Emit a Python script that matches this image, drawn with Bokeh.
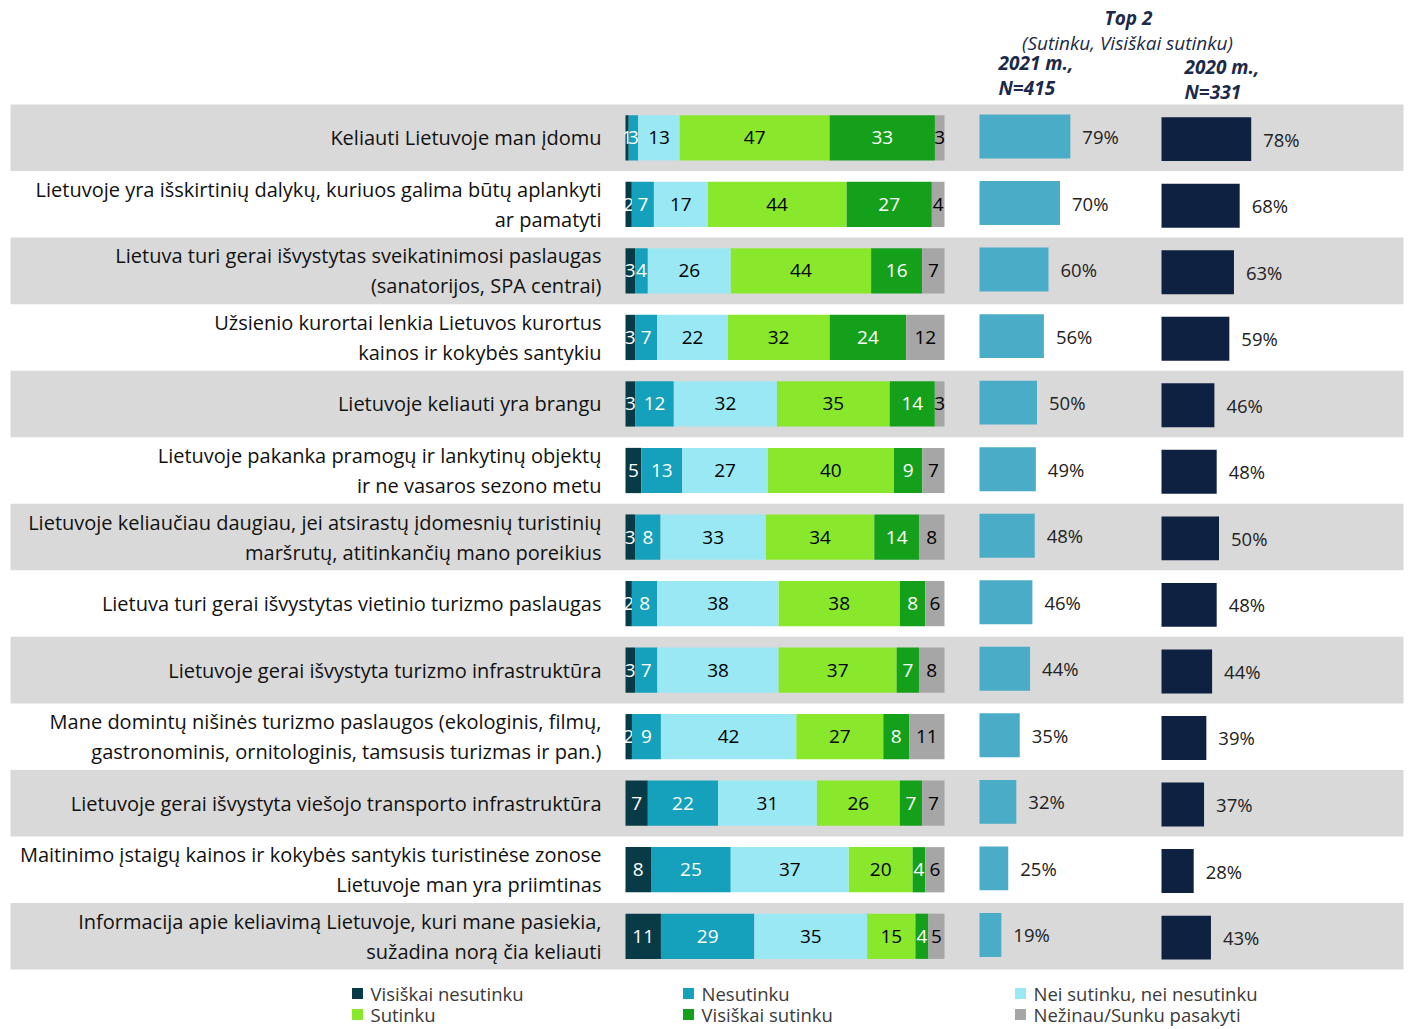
from bokeh.plotting import figure
from bokeh.models import Range1d, ColumnDataSource
from bokeh.core.properties import value
from bokeh.embed import file_html
from bokeh.resources import INLINE

# ---------------- data ----------------
categories = [
    "Keliauti Lietuvoje man įdomu",
    "Lietuvoje yra išskirtinių dalykų, kuriuos galima būtų aplankyti\nar pamatyti",
    "Lietuva turi gerai išvystytas sveikatinimosi paslaugas\n(sanatorijos, SPA centrai)",
    "Užsienio kurortai lenkia Lietuvos kurortus\nkainos ir kokybės santykiu",
    "Lietuvoje keliauti yra brangu",
    "Lietuvoje pakanka pramogų ir lankytinų objektų\nir ne vasaros sezono metu",
    "Lietuvoje keliaučiau daugiau, jei atsirastų įdomesnių turistinių\nmaršrutų, atitinkančių mano poreikius",
    "Lietuva turi gerai išvystytas vietinio turizmo paslaugas",
    "Lietuvoje gerai išvystyta turizmo infrastruktūra",
    "Mane domintų nišinės turizmo paslaugos (ekologinis, filmų,\ngastronominis, ornitologinis, tamsusis turizmas ir pan.)",
    "Lietuvoje gerai išvystyta viešojo transporto infrastruktūra",
    "Maitinimo įstaigų kainos ir kokybės santykis turistinėse zonose\nLietuvoje man yra priimtinas",
    "Informacija apie keliavimą Lietuvoje, kuri mane pasiekia,\nsužadina norą čia keliauti",
]
visiskai_nesutinku = [1, 2, 3, 3, 3, 5, 3, 2, 3, 2, 7, 8, 11]
nesutinku = [3, 7, 4, 7, 12, 13, 8, 8, 7, 9, 22, 25, 29]
nei_sutinku = [13, 17, 26, 22, 32, 27, 33, 38, 38, 42, 31, 37, 35]
sutinku = [47, 44, 44, 32, 35, 40, 34, 38, 37, 27, 26, 20, 15]
visiskai_sutinku = [33, 27, 16, 24, 14, 9, 14, 8, 7, 8, 7, 4, 4]
nezinau = [3, 4, 7, 12, 3, 7, 8, 6, 8, 11, 7, 6, 5]
top2_2021 = [79, 70, 60, 56, 50, 49, 48, 46, 44, 35, 32, 25, 19]
top2_2020 = [78, 68, 63, 59, 46, 48, 50, 48, 44, 39, 37, 28, 43]

series_names = ["Visiškai nesutinku", "Nesutinku", "Nei sutinku, nei nesutinku",
                "Sutinku", "Visiškai sutinku", "Nežinau/Sunku pasakyti"]
series_values = [visiskai_nesutinku, nesutinku, nei_sutinku, sutinku, visiskai_sutinku, nezinau]
series_colors = ["#083b46", "#15a0bb", "#9be8f5", "#8ae82c", "#14a01b", "#a6a6a6"]
label_colors = ["white", "white", "black", "black", "white", "black"]

# ---------------- layout constants (picture pixels) ----------------
W, H = 1406, 1029
MAIN_X0, MAIN_PX = 625, 3.19      # x of 0 %, pixels per %
T21_X0, T20_X0, TOP_PX = 979, 1161, 1.15
ROW_Y0, ROW_H = 137.3, 66.54     # y of first row centre, row height
FONT = "Open Sans"
NAVY = "#1b2a4a"


def px2x(px):
    return (px - MAIN_X0) / MAIN_PX


def px2y(py):
    return (py - ROW_Y0) / ROW_H


x_main = Range1d(px2x(0), px2x(W))
y_rng = Range1d(px2y(H), px2y(0))

p = figure(width=W, height=H, x_range=x_main, y_range=y_rng,
           output_backend="svg", toolbar_location=None,
           x_axis_type=None, y_axis_type=None, min_border=0)
p.outline_line_color = None
p.grid.visible = False
p.background_fill_color = "white"
p.border_fill_color = "white"

p.extra_x_ranges = {
    "t21": Range1d(-T21_X0 / TOP_PX, (W - T21_X0) / TOP_PX),
    "t20": Range1d(-T20_X0 / TOP_PX, (W - T20_X0) / TOP_PX),
}

n = len(categories)
rows = list(range(n))

# background bands
band_rows = [r for r in rows if r % 2 == 0]
p.hbar(y=band_rows, left=px2x(10), right=px2x(1403), height=1.0,
       fill_color="#d9d9d9", line_color=None)

# stacked bars (normalised to 100)
totals = [sum(s[i] for s in series_values) for i in rows]
cum = [0.0] * n
for name, vals, col, lc in zip(series_names, series_values, series_colors, label_colors):
    left = cum[:]
    right = [cum[i] + vals[i] * 100.0 / totals[i] for i in rows]
    src = ColumnDataSource(dict(y=rows, left=left, right=right,
                                mid=[(l + r) / 2 for l, r in zip(left, right)],
                                lab=[str(v) for v in vals]))
    p.hbar(y="y", left="left", right="right", height=0.68, source=src,
           fill_color=col, line_color=None)
    p.text(x="mid", y="y", text="lab", source=src, text_align="center",
           text_baseline="middle", text_font=value(FONT), text_font_size="19px",
           text_color=lc)
    cum = right

# category labels
lx, ly, lt = [], [], []
for i, c in enumerate(categories):
    lines = c.split("\n")
    if len(lines) == 1:
        lx.append(px2x(601)); ly.append(i); lt.append(lines[0])
    else:
        for j, ln in enumerate(lines):
            lx.append(px2x(601)); ly.append(i + (j - 0.5) * 30 / ROW_H); lt.append(ln)
p.text(x=lx, y=ly, text=lt, text_align="right", text_baseline="middle",
       text_font=value(FONT), text_font_size="20px", text_color="#111111")

# top2 bars
for rng, vals, col, dy in (("t21", top2_2021, "#4aacc6", -0.02), ("t20", top2_2020, "#0f2140", 0.02)):
    src = ColumnDataSource(dict(y=[r + dy for r in rows], right=vals,
                                lx=[v + 12 / TOP_PX for v in vals],
                                lab=[f"{v}%" for v in vals]))
    p.hbar(y="y", left=0, right="right", height=0.66, source=src,
           fill_color=col, line_color=None, x_range_name=rng)
    p.text(x="lx", y="y", text="lab", source=src, x_range_name=rng,
           text_align="left", text_baseline="middle", text_font=value(FONT),
           text_font_size="18.5px", text_color="#222222")

# header
p.text(x=[px2x(1128)], y=[px2y(17)], text=["Top 2"], text_align="center",
       text_baseline="middle", text_font=value(FONT), text_font_size="19px",
       text_font_style="bold italic", text_color=NAVY)
p.text(x=[px2x(1127)], y=[px2y(42)], text=["(Sutinku, Visiškai sutinku)"],
       text_align="center", text_baseline="middle", text_font=value(FONT),
       text_font_size="19px", text_font_style="italic", text_color=NAVY)
p.text(x=[px2x(998), px2x(998), px2x(1184), px2x(1184)],
       y=[px2y(62), px2y(87), px2y(66), px2y(91)],
       text=["2021 m.,", "N=415", "2020 m.,", "N=331"],
       text_align="left", text_baseline="middle", text_font=value(FONT),
       text_font_size="19px", text_font_style="bold italic", text_color=NAVY)

# legend
leg_sq_px = [352, 683, 1015, 352, 683, 1015]
leg_y_px = [993, 993, 993, 1014, 1014, 1014]
order = [0, 1, 2, 3, 4, 5]
p.scatter(x=[px2x(leg_sq_px[k] + 5) for k in order], y=[px2y(leg_y_px[k]) for k in order],
          marker="square", size=11, fill_color=[series_colors[k] for k in order], line_color=None)
p.text(x=[px2x(leg_sq_px[k] + 18) for k in order], y=[px2y(leg_y_px[k]) for k in order],
       text=[series_names[k] for k in order], text_align="left", text_baseline="middle",
       text_font=value(FONT), text_font_size="18.5px", text_color="#3a3a3a")

open("out.html", "w").write(file_html(p, INLINE))
